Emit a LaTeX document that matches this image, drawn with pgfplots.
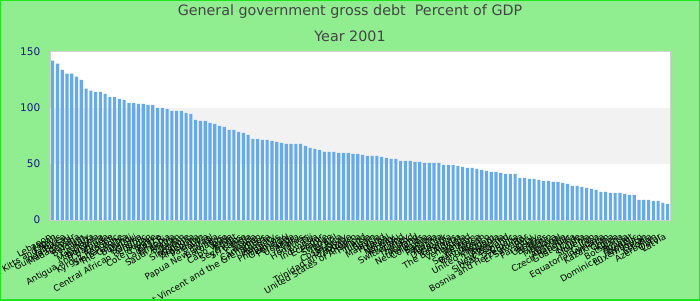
\documentclass[border=0pt]{standalone}
\usepackage{pgfplots}
\pgfplotsset{compat=1.18}
\usepackage{pgfplotstable}
\usepackage{fontspec}
\setmainfont{DejaVu Sans}
\definecolor{bg}{RGB}{144,238,144}
\definecolor{brd}{RGB}{30,230,30}
\definecolor{barc}{RGB}{99,170,243}
\definecolor{band}{RGB}{242,242,242}
\definecolor{framec}{RGB}{210,210,210}
\definecolor{ttl}{RGB}{68,68,68}
\definecolor{ytk}{RGB}{20,20,130}

\pgfplotstableread[col sep=comma]{
idx,value,name
0,142.0,Lebanon
1,139.3,Japan
2,133.9,Saint Kitts and Nevis
3,130.4,Jamaica
4,130.4,Guinea-Bissau
5,127.7,Madagascar
6,125.0,Guyana
7,117.0,Belgium
8,115.2,Italy
9,114.3,Grenada
10,114.3,Mauritania
11,112.5,Dominica
12,109.8,Antigua and Barbuda
13,109.8,Greece
14,108.0,Kyrgyz Republic
15,107.1,Sierra Leone
16,104.5,The Gambia
17,104.5,Burundi
18,103.6,Malawi
19,103.6,Ghana
20,102.7,Central African Republic
21,102.7,Sudan
22,100.0,Cote d'Ivoire
23,100.0,Belize
24,99.1,Lao P.D.R.
25,97.3,Ethiopia
26,97.3,Saudi Arabia
27,97.3,Bhutan
28,95.5,Jordan
29,94.6,Singapore
30,89.3,Mongolia
31,88.4,Argentina
32,88.4,Pakistan
33,86.6,Bolivia
34,85.7,Israel
35,83.9,Papua New Guinea
36,83.0,Barbados
37,80.4,Togo
38,80.4,Cabo Verde
39,78.6,Egypt
40,77.7,Seychelles
41,75.9,Sri Lanka
42,72.3,India
43,72.3,Canada
44,71.4,Cameroon
45,71.4,Saint Vincent and the Grenadines
46,70.5,Austria
47,69.6,Hungary
48,68.8,Philippines
49,67.9,Germany
50,67.9,Portugal
51,67.9,Uganda
52,67.9,Malta
53,66.1,Cyprus
54,64.3,Honduras
55,63.4,Fiji
56,62.5,Indonesia
57,60.7,Ecuador
58,60.7,France
59,60.7,Sweden
60,59.8,Brazil
61,59.8,Costa Rica
62,59.8,Uruguay
63,58.9,Trinidad and Tobago
64,58.9,Morocco
65,58.0,United States of America
66,57.1,Finland
67,57.1,Tunisia
68,57.1,Spain
69,56.2,Malaysia
70,55.4,Poland
71,54.5,Nepal
72,54.5,Norway
73,52.7,Vanuatu
74,52.7,Switzerland
75,52.7,Turkey
76,51.8,Thailand
77,51.8,Iceland
78,50.9,Netherlands
79,50.9,Colombia
80,50.9,Samoa
81,50.9,Panama
82,49.1,Albania
83,49.1,Denmark
84,49.1,Georgia
85,48.2,The Bahamas
86,47.3,Algeria
87,46.4,Venezuela
88,46.4,Ireland
89,45.5,Vietnam
90,44.6,South Africa
91,43.7,Bangladesh
92,42.9,Mexico
93,42.9,United Kingdom
94,42.0,Lithuania
95,41.1,Armenia
96,41.1,New Zealand
97,41.1,Slovak Republic
98,37.5,Croatia
99,37.5,Bosnia and Herzegovina
100,36.6,El Salvador
101,36.6,Peru
102,35.7,Paraguay
103,34.8,Ukraine
104,34.8,Belarus
105,33.9,Benin
106,33.9,Moldova
107,33.0,Senegal
108,32.1,Australia
109,30.4,Czech Republic
110,30.4,Guatemala
111,29.5,Chile
112,28.6,Nigeria
113,27.7,Slovenia
114,26.8,Iran
115,25.0,Equatorial Guinea
116,25.0,Romania
117,24.1,Kazakhstan
118,24.1,China
119,24.1,Korea
120,23.2,Botswana
121,22.3,Russia
122,22.3,Kuwait
123,17.9,Dominican Republic
124,17.9,Luxembourg
125,17.9,Oman
126,17.0,Estonia
127,17.0,Azerbaijan
128,15.2,Qatar
129,14.3,Latvia
}\debt

\begin{document}
\begin{tikzpicture}[x=1pt,y=1pt]
\fill[bg] (0,0) rectangle (700,300);
\begin{axis}[
  at={(50.3pt,80pt)}, anchor=south west,
  scale only axis, width=619.7pt, height=168.3pt,
  xmin=-0.5, xmax=129.5, ymin=0, ymax=150,
  ybar, bar width=3.1pt,
  axis background/.style={fill=white},
  axis line style={framec, line width=0.8pt},
  xtick={0,...,129}, xticklabels from table={\debt}{name},
  ytick={0,50,100,150},
  major tick length=0pt,
  /pgf/number format/assume math mode=true,
  yticklabel style={font=\fontsize{10.5}{12}\selectfont, text=ytk, xshift=-6.5pt},
  xticklabel style={font=\fontsize{8.8}{10}\selectfont, xshift=-4pt, yshift=-13pt, rotate=30, anchor=north east, inner sep=0pt},
]
\fill[band] (axis cs:-0.5,50) rectangle (axis cs:129.5,100);
\addplot[fill=barc, draw=none, bar shift=0pt] table[x=idx,y=value]{\debt};
\end{axis}
\node[font=\fontsize{14.3}{16}\selectfont, text=ttl] at (350,288) {General government gross debt\ \ Percent of GDP};
\node[font=\fontsize{14.3}{16}\selectfont, text=ttl] at (350,264) {Year 2001};
\draw[brd, line width=2.5pt] (0,0) rectangle (700,300);
\pgfresetboundingbox
\path (0,0) rectangle (700,300);
\end{tikzpicture}
\end{document}
